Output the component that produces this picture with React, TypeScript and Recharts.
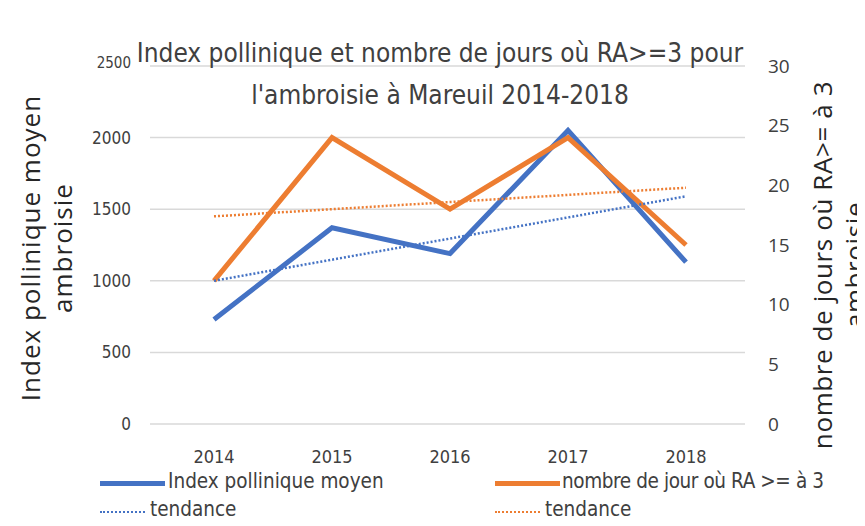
import React from 'react';
import { LineChart, Line, XAxis, YAxis, CartesianGrid } from 'recharts';

const years = ['2014', '2015', '2016', '2017', '2018'];
const indexPollinique = [730, 1370, 1190, 2050, 1130];
const joursRA = [12, 24, 18, 24, 15];
const tendanceIndex = [1000, null, null, null, 1590];
const tendanceJours = [17.4, null, null, null, 19.8];
const leftTicks = [0, 500, 1000, 1500, 2000, 2500];
const rightTicks = [0, 5, 10, 15, 20, 25, 30];

const titleLine1 = 'Index pollinique et nombre  de jours où RA>=3 pour';
const titleLine2 = "l'ambroisie à Mareuil 2014-2018";
const leftTitle1 = 'Index pollinique moyen';
const leftTitle2 = 'ambroisie';
const rightTitle1 = 'nombre de jours où RA>= à 3';
const rightTitle2 = 'ambroisie';
const legendIndex = 'Index pollinique moyen';
const legendJours = 'nombre de jour où RA >= à 3';
const legendTendance = 'tendance';

const BLUE = '#4472C4';
const ORANGE = '#ED7D31';
const COND = '"Liberation Sans Narrow", "DejaVu Sans Condensed", "Roboto Condensed", "Noto Sans", sans-serif';
const SANS = '"Open Sans", "Noto Sans", sans-serif';

const data = years.map((y, i) => ({
  year: y,
  index: indexPollinique[i],
  jours: joursRA[i],
  tIndex: tendanceIndex[i],
  tJours: tendanceJours[i],
}));

const abs = (s: React.CSSProperties): React.CSSProperties => ({ position: 'absolute', whiteSpace: 'nowrap', ...s });

const LeftTick = (props: any) => {
  const { x, y, payload } = props;
  const top = payload.value === leftTicks[leftTicks.length - 1];
  return (
    <text
      x={x}
      y={top ? y - 3 : y}
      textAnchor="end"
      dominantBaseline="central"
      fontFamily={COND}
      fontSize={top ? 15 : 17}
      fill="#404040"
    >
      {payload.value}
    </text>
  );
};

export default function App() {
  return (
    <div style={{ position: 'relative', width: 865, height: 526, margin: -8, background: '#fff', overflow: 'hidden' }}>
      <div style={abs({ left: 3, top: 7, width: 900, height: 600, border: '1px solid #d4d4d4' })} />
      <LineChart
        width={865}
        height={526}
        data={data}
        margin={{ top: 66, right: 60, bottom: 72, left: 90 }}
        style={{ position: 'absolute', left: 0, top: 0 }}
      >
        <CartesianGrid yAxisId="left" vertical={false} stroke="#d9d9d9" strokeWidth={1.5} />
        <XAxis
          dataKey="year"
          height={30}
          padding={{ left: 64, right: 59 }}
          axisLine={false}
          tickLine={false}
          tickMargin={20}
          tick={{ fontSize: 18, fill: '#404040', fontFamily: COND }}
        />
        <YAxis
          yAxisId="left"
          orientation="left"
          width={60}
          domain={[0, 2500]}
          ticks={leftTicks}
          axisLine={false}
          tickLine={false}
          tickMargin={13}
          tick={LeftTick}
        />
        <YAxis
          yAxisId="right"
          orientation="right"
          width={60}
          domain={[0, 30]}
          ticks={rightTicks}
          axisLine={false}
          tickLine={false}
          tickMargin={17}
          tick={{ fontSize: 19, fill: '#404040', fontFamily: SANS }}
        />
        <Line yAxisId="left" dataKey="index" stroke={BLUE} strokeWidth={5} dot={false} isAnimationActive={false} />
        <Line yAxisId="right" dataKey="jours" stroke={ORANGE} strokeWidth={5} dot={false} isAnimationActive={false} />
        <Line yAxisId="left" dataKey="tIndex" stroke={BLUE} strokeWidth={2.5} strokeDasharray="2 2" dot={false} connectNulls isAnimationActive={false} />
        <Line yAxisId="right" dataKey="tJours" stroke={ORANGE} strokeWidth={2.5} strokeDasharray="2 2" dot={false} connectNulls isAnimationActive={false} />
      </LineChart>

      <div style={abs({ left: 0, width: 880, top: 32, textAlign: 'center', fontFamily: COND, fontSize: 26, color: '#404040', lineHeight: '42px' })}>
        {titleLine1}
        <br />
        {titleLine2}
      </div>

      <div style={abs({ left: 46, top: 248, transform: 'translate(-50%, -50%) rotate(-90deg)', fontFamily: SANS, fontSize: 26, letterSpacing: 1, color: '#262626', textAlign: 'center', lineHeight: '32px' })}>
        {leftTitle1}
        <br />
        {leftTitle2}
      </div>

      <div style={abs({ left: 838, top: 265, transform: 'translate(-50%, -50%) rotate(-90deg)', fontFamily: SANS, fontSize: 26, letterSpacing: 0.6, color: '#262626', textAlign: 'center', lineHeight: '32px' })}>
        {rightTitle1}
        <br />
        {rightTitle2}
      </div>

      <div style={abs({ left: 100, top: 481, width: 65, height: 5, background: BLUE })} />
      <div style={abs({ left: 168, top: 469, fontFamily: COND, fontSize: 20.5, color: '#404040' })}>{legendIndex}</div>
      <div style={abs({ left: 495, top: 481, width: 65, height: 5, background: ORANGE })} />
      <div style={abs({ left: 562, top: 469, fontFamily: COND, fontSize: 20.5, letterSpacing: -0.4, color: '#404040' })}>{legendJours}</div>

      <div style={abs({ left: 100, top: 511, width: 45, height: 0, borderTop: `2.5px dotted ${BLUE}` })} />
      <div style={abs({ left: 150, top: 497, fontFamily: COND, fontSize: 20.5, color: '#404040' })}>{legendTendance}</div>
      <div style={abs({ left: 495, top: 511, width: 45, height: 0, borderTop: `2.5px dotted ${ORANGE}` })} />
      <div style={abs({ left: 545, top: 497, fontFamily: COND, fontSize: 20.5, color: '#404040' })}>{legendTendance}</div>
    </div>
  );
}
